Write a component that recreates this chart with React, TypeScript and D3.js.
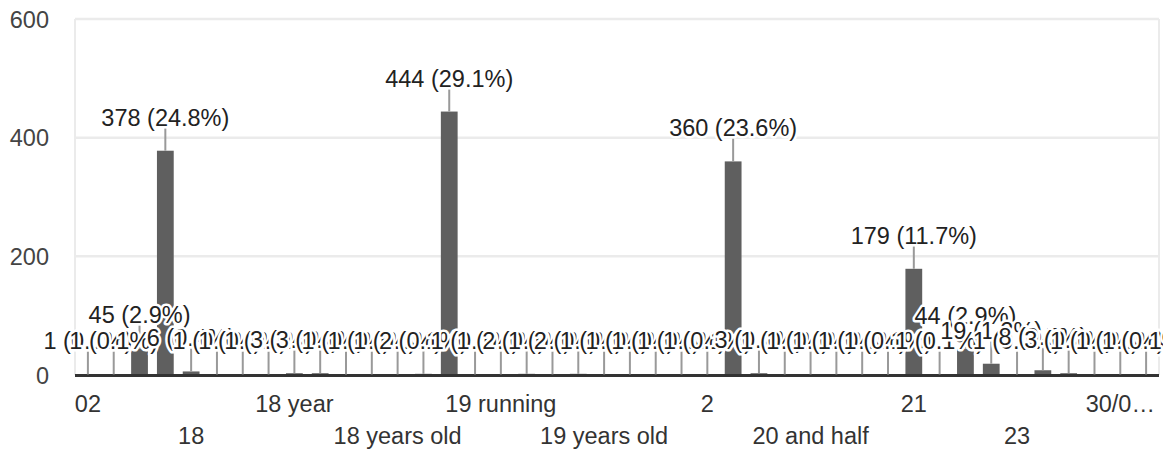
import React from "react";
import * as d3 from "d3";

const categories: string[] = [
  "02", "1", "16", "17", "18", "18 Years", "18 yr", "18 yrs", "18 year", "18 years",
  "18 Years old", "18 yeas", "18 years old", "18+", "19", "19 Years", "19 running", "19 year",
  "19 yrs", "19 years", "19 years old", "19+", "190", "1999", "2", "20", "20 years", "20 yrs",
  "20 and half", "20 year", "20 years old", "20+", "21", "21 years", "22", "22 years", "23",
  "24", "25", "26", "30/01/2002", "31",
];

const counts: number[] = [
  1, 1, 45, 378, 6, 1, 1, 1, 3, 3,
  1, 1, 1, 2, 444, 1, 1, 2, 1, 2,
  1, 1, 1, 1, 1, 360, 3, 1, 1, 1,
  1, 1, 179, 1, 44, 19, 1, 8, 3, 1,
  1, 1,
];

const yTicks: number[] = [0, 200, 400, 600];
const labelEvery = 4;

const W = 1169;
const H = 452;
const FONT = "'Liberation Sans', Arial, sans-serif";
const FS = 23.5;

let ctx: CanvasRenderingContext2D | null = null;
function measure(t: string): number {
  if (!ctx) ctx = document.createElement("canvas").getContext("2d");
  if (!ctx) return t.length * FS * 0.55;
  ctx.font = `${FS}px ${FONT}`;
  return ctx.measureText(t).width;
}

function fitLabel(t: string, cx: number, maxRight: number): string {
  if (cx + measure(t) / 2 <= maxRight) return t;
  let s = t;
  while (s.length > 1) {
    s = s.slice(0, -1);
    const c = s + "…";
    if (cx + measure(c) / 2 <= maxRight) return c;
  }
  return s + "…";
}

export default function App() {
  const left = 75;
  const right = 1159;
  const x = d3.scaleBand<string>().domain(categories).range([left, right]).paddingInner(0.35).paddingOuter(0.175);
  const y = d3.scaleLinear().domain([0, 600]).range([375, 19]);
  const total = d3.sum(counts);
  const fmt = (v: number) => `${v} (${((v / total) * 100).toFixed(1)}%)`;
  const cx = (c: string) => (x(c) as number) + x.bandwidth() / 2;

  return (
    <svg width={W} height={H} style={{ position: "absolute", left: 0, top: 0, background: "#fff" }} fontFamily={FONT}>
      <defs>
        <clipPath id="annClip">
          <rect x={0} y={0} width={1163} height={H} />
        </clipPath>
      </defs>
      {/* gridlines */}
      {yTicks.filter((t) => t > 0).map((t) => (
        <line key={t} x1={left} x2={right} y1={y(t)} y2={y(t)} stroke="#ebebeb" strokeWidth={2.5} />
      ))}
      <line x1={left} x2={left} y1={y(600)} y2={y(0)} stroke="#ebebeb" strokeWidth={2} />
      <line x1={right} x2={right} y1={y(600)} y2={y(0)} stroke="#ebebeb" strokeWidth={2} />
      {/* y tick labels */}
      {yTicks.map((t) => (
        <text key={t} x={49} y={y(t) + 8.5} textAnchor="end" fontSize={FS} fill="#444">
          {t}
        </text>
      ))}
      {/* bars */}
      {categories.map((c, i) => (
        <rect key={c} x={x(c)} y={y(counts[i])} width={x.bandwidth()} height={y(0) - y(counts[i])} fill="#5f5f5f" />
      ))}
      {/* baseline */}
      <line x1={left} x2={right} y1={y(0) + 0.5} y2={y(0) + 0.5} stroke="#333" strokeWidth={3} />
      {/* annotation stems */}
      {categories.map((c, i) => (
        <line key={c} x1={cx(c)} x2={cx(c)} y1={y(counts[i]) - 23} y2={y(counts[i])} stroke="#999" strokeWidth={2} />
      ))}
      {/* annotation labels */}
      <g clipPath="url(#annClip)">
        {categories.map((c, i) => (
          <text
            key={c}
            x={cx(c)}
            y={y(counts[i]) - 25}
            textAnchor="middle"
            fontSize={FS}
            fill="#222"
            stroke="#fff"
            strokeWidth={5}
            strokeLinejoin="round"
            style={{ paintOrder: "stroke" }}
          >
            {fmt(counts[i])}
          </text>
        ))}
      </g>
      {/* x labels */}
      {categories.map((c, i) =>
        i % labelEvery === 0 ? (
          <text key={c} x={cx(c)} y={(i / labelEvery) % 2 === 0 ? 412 : 444} textAnchor="middle" fontSize={FS} fill="#333">
            {fitLabel(c, cx(c), right)}
          </text>
        ) : null
      )}
    </svg>
  );
}
